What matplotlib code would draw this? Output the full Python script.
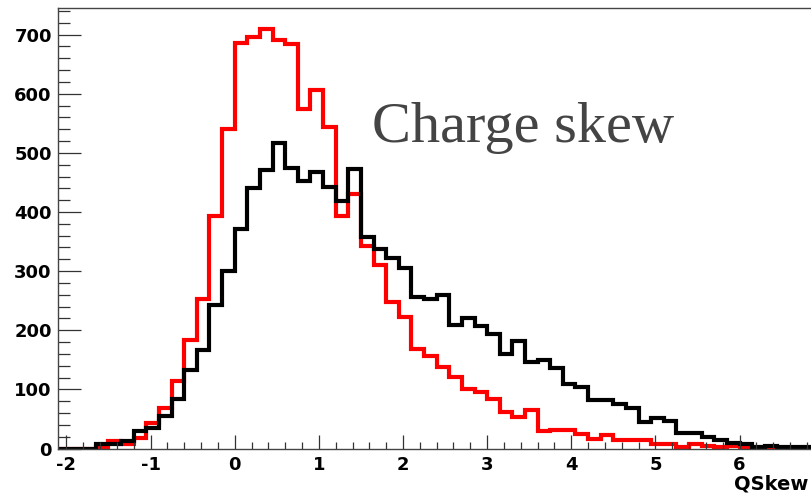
import numpy as np
import matplotlib
matplotlib.use("Agg")
import matplotlib.pyplot as plt
from matplotlib.ticker import MultipleLocator

# Histogram binning
x_lo, x_hi, n_bins = -2.1, 6.9, 60

red_counts = [0, 0, 0, 2, 12, 8, 18, 43, 68, 114,
              183, 253, 393, 541, 685, 696, 709, 691, 684, 574,
              606, 543, 393, 430, 342, 310, 248, 222, 169, 157,
              138, 121, 100, 96, 84, 62, 53, 65, 29, 31,
              31, 25, 16, 22, 15, 14, 15, 8, 8, 3,
              7, 5, 3, 4, 1, 0, 1, 0, 0, 0]

black_counts = [0, 0, 0, 8, 7, 12, 29, 34, 55, 84,
                132, 166, 243, 300, 371, 441, 471, 516, 475, 453,
                467, 443, 418, 472, 357, 337, 322, 305, 257, 252,
                260, 209, 221, 208, 193, 160, 181, 147, 150, 136,
                109, 104, 82, 82, 75, 68, 45, 51, 47, 26,
                27, 19, 14, 10, 7, 3, 5, 3, 2, 2]

x_ticks = [-2, -1, 0, 1, 2, 3, 4, 5, 6]
y_ticks = [0, 100, 200, 300, 400, 500, 600, 700]
y_max = 745

title_text = "Charge skew"
x_label = "QSkew"

edges = np.linspace(x_lo, x_hi, n_bins + 1)

fig = plt.figure(figsize=(8.11, 4.96), dpi=100)
ax = fig.add_axes([58 / 811, (496 - 448.5) / 496, (815.3 - 58) / 811, (448.5 - 8) / 496])

ax.stairs(red_counts, edges, color="#ff0000", linewidth=3.0, baseline=None)
ax.stairs(black_counts, edges, color="#000000", linewidth=3.0, baseline=None)

ax.set_xlim(x_lo, x_hi)
ax.set_ylim(0, y_max)

ax.set_xticks(x_ticks)
ax.set_yticks(y_ticks)
ax.xaxis.set_minor_locator(MultipleLocator(0.2))
ax.yaxis.set_minor_locator(MultipleLocator(20))

tick_font = dict(family="DejaVu Sans", weight="bold", size=13)
ax.set_xticklabels([str(t) for t in x_ticks], fontdict=tick_font)
ax.set_yticklabels([str(t) for t in y_ticks], fontdict=tick_font)

ax.tick_params(axis="y", which="major", direction="in", length=16.5, width=0.9,
               color="#333333", pad=4.5)
ax.tick_params(axis="y", which="minor", direction="in", length=8.5, width=0.9,
               color="#333333")
ax.tick_params(axis="x", which="major", direction="in", length=10, width=0.9,
               color="#333333", pad=5.5)
ax.tick_params(axis="x", which="minor", direction="in", length=5, width=0.9,
               color="#333333")

for side in ["left", "top", "bottom"]:
    ax.spines[side].set_color("#444444")
    ax.spines[side].set_linewidth(1.0)
ax.spines["right"].set_visible(False)

fig.text(523 / 811, (496 - 141.7) / 496, title_text, family="Liberation Serif",
         fontsize=42, color="#444444", ha="center", va="baseline")
fig.text(808 / 811, (496 - 490) / 496, x_label, family="DejaVu Sans",
         weight="bold", fontsize=14, color="black", ha="right", va="baseline")

fig.savefig("out.png", dpi=100)
